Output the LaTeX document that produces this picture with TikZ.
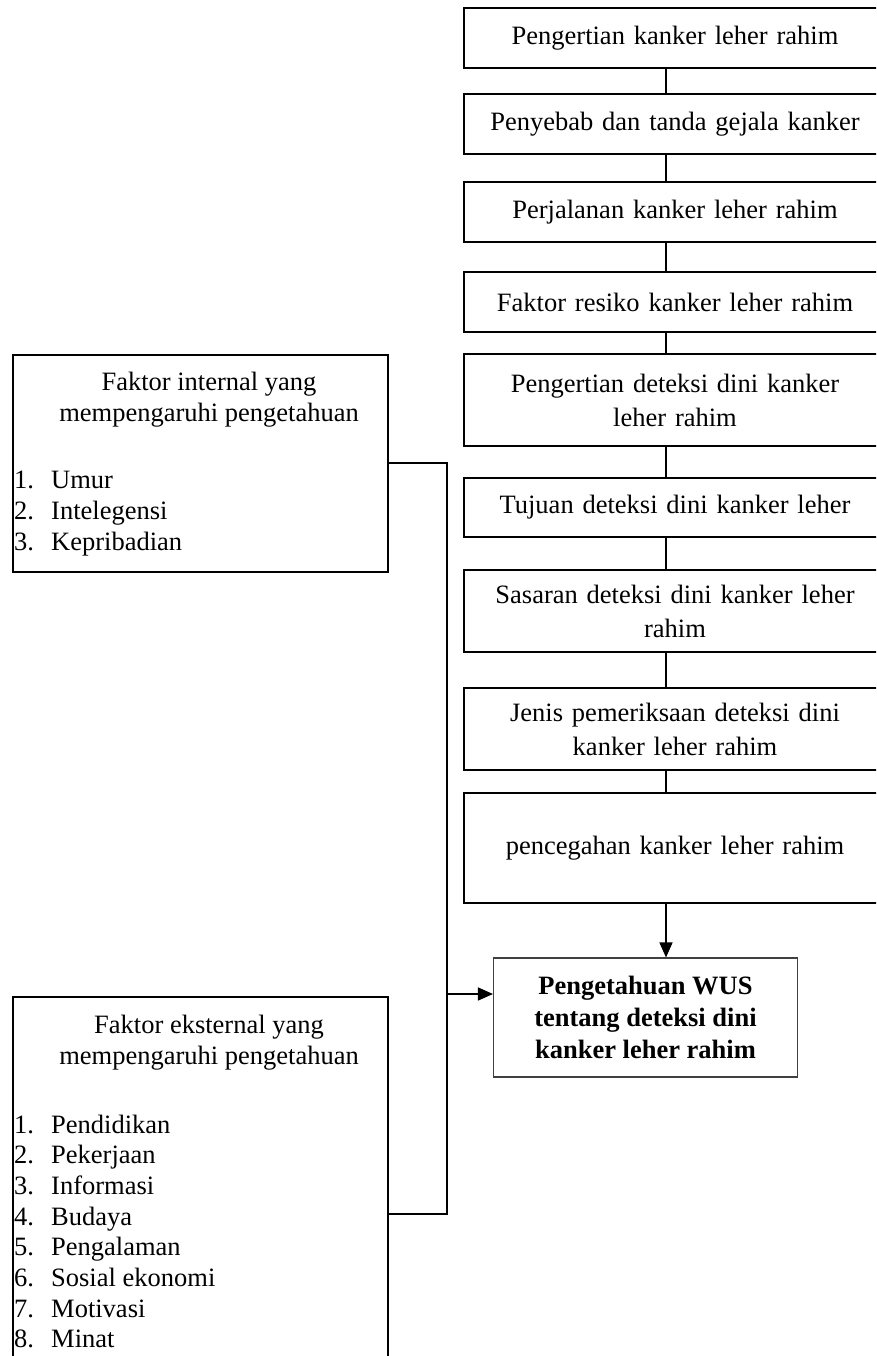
\documentclass[tikz,border=0pt]{standalone}
\usepackage{fontspec}
\setmainfont{Liberation Serif}
\usetikzlibrary{arrows.meta}
\tikzset{
  rbox/.style={draw, line width=1.5pt, rectangle, inner sep=0pt, minimum width=422pt,
    font=\fontsize{26.5}{34}\selectfont, align=center, text width=400pt},
  lbox/.style={draw, line width=1.5pt, rectangle, inner sep=0pt, anchor=north west},
  ttl/.style={font=\fontsize{26.5}{31}\selectfont, align=center, inner sep=0pt},
  itm/.style={font=\fontsize{26.5}{30.7}\selectfont, inner sep=0pt, anchor=base west},
  conn/.style={line width=1.5pt},
  arr/.style={conn, -{Triangle[length=15pt,width=13pt]}},
  wbox/.style={draw=black!75, line width=1.1pt, rectangle, inner sep=0pt,
    font=\bfseries\fontsize{26.5}{32}\selectfont, align=center},
}
\begin{document}
\begin{tikzpicture}[x=1pt,y=-1pt]
\useasboundingbox (0,0) rectangle (876,1356);
\clip (0,0) rectangle (876,1356);
\fill[white] (0,0) rectangle (876,1356);
% right column boxes
\node[rbox, minimum height=60pt] (b1) at (675,38) {Pengertian kanker leher rahim};
\node[rbox, minimum height=60pt] (b2) at (675,124) {Penyebab dan tanda gejala kanker};
\node[rbox, minimum height=60pt] (b3) at (675,212) {Perjalanan kanker leher rahim};
\node[rbox, minimum height=60pt] (b4) at (675,302) {Faktor resiko kanker leher rahim};
\node[rbox, minimum height=92pt] (b5) at (675,400) {Pengertian deteksi dini kanker\\leher rahim};
\node[rbox, minimum height=59pt] (b6) at (675,507.5) {Tujuan deteksi dini kanker leher};
\node[rbox, minimum height=82pt] (b7) at (675,611) {Sasaran deteksi dini kanker leher\\rahim};
\node[rbox, minimum height=82pt] (b8) at (675,729) {Jenis pemeriksaan deteksi dini\\kanker leher rahim};
\node[rbox, minimum height=110pt] (b9) at (675,848) {pencegahan kanker leher rahim};
% target box
\node[wbox, minimum width=304pt, minimum height=119pt] (w) at (645.5,1017.5)
  {Pengetahuan WUS\\tentang deteksi dini\\kanker leher rahim};
% vertical chain
\foreach \a/\b in {b1/b2,b2/b3,b3/b4,b4/b5,b5/b6,b6/b7,b7/b8,b8/b9}{
  \draw[conn] (\a.south -| 666,0) -- (\b.north -| 666,0);
}
\draw[arr] (b9.south -| 666,0) -- (w.north -| 666,0);
% left boxes
\node[lbox, minimum width=375pt, minimum height=217pt] (in) at (12,354) {};
\node[ttl] (int) at (209,400) {Faktor internal yang\\mempengaruhi pengetahuan};
\node[itm] (i1n) at (14,488) {1.};\node[itm] (i1) at (51,488) {Umur};
\node[itm] (i2n) at (14,519) {2.};\node[itm] (i2) at (51,519) {Intelegensi};
\node[itm] (i3n) at (14,550) {3.};\node[itm] (i3) at (51,550) {Kepribadian};
\node[lbox, minimum width=375pt, minimum height=420pt] (ex) at (12,996) {};
\node[ttl] (ext) at (209,1043) {Faktor eksternal yang\\mempengaruhi pengetahuan};
\foreach \n/\t [count=\k from 0] in {1/Pendidikan,2/Pekerjaan,3/Informasi,4/Budaya,5/Pengalaman,6/Sosial ekonomi,7/Motivasi,8/Minat}{
  \node[itm] (e\n n) at (14,1133+30.7*\k) {\n.};
  \node[itm] (e\n) at (51,1133+30.7*\k) {\t};
}
% connectors from left boxes
\coordinate (jt) at (447,463);
\coordinate (jb) at (447,1214);
\coordinate (ja) at (447,994);
\draw[conn] (in.east |- jt) -- (jt) -- (jb) -- (ex.east |- jb);
\draw[arr] (ja) -- (w.west |- ja);
\end{tikzpicture}
\end{document}
